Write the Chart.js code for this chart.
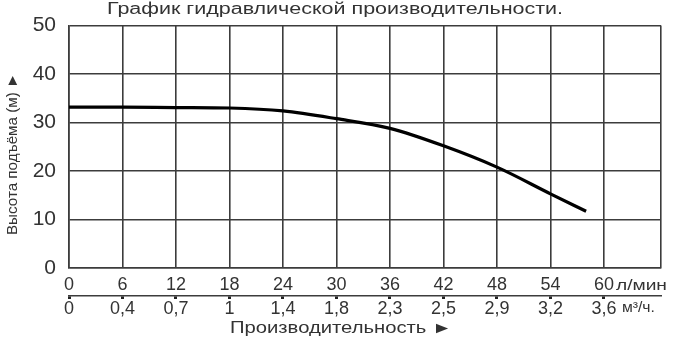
<!DOCTYPE html>
<html>
<head>
<meta charset="utf-8">
<script src="https://cdn.jsdelivr.net/npm/chart.js@4"></script>
<style>
  html, body { margin: 0; padding: 0; background: #fff; }
  #wrap { width: 673px; height: 344px; }
</style>
</head>
<body>
<div id="wrap"><canvas id="pumpChart"></canvas></div>
<script>
// расход, л/мин
var flowLpm = [0, 6, 12, 18, 24, 30, 36, 42, 48, 54, 58];
// напор, м
var headM = [33.2, 33.2, 33.1, 33.0, 32.4, 30.8, 28.8, 25.2, 20.8, 15.3, 11.7];
// подписи нижней шкалы
var flowTicks = [0, 6, 12, 18, 24, 30, 36, 42, 48, 54, 60];
var flowM3Labels = ['0', '0,4', '0,7', '1', '1,4', '1,8', '2,3', '2,5', '2,9', '3,2', '3,6'];
var headTicks = [0, 10, 20, 30, 40, 50];

var textColor = '#333';
var gridColor = '#3c3c3c';
var fontFamily = '"Liberation Sans", Arial, sans-serif';

// текст, растянутый по ширине как на картинке
function stretchedText(c, text, cx, cy, size, width, angle) {
    c.save();
    c.font = size + 'px ' + fontFamily;
    c.fillStyle = textColor;
    c.textAlign = 'center';
    c.textBaseline = 'middle';
    var k = width / c.measureText(text).width;
    c.translate(cx, cy);
    if (angle) c.rotate(angle);
    c.scale(k, 1);
    c.fillText(text, 0, 0);
    c.restore();
}

function leftText(c, text, x, cy, size, width) {
    c.save();
    c.font = size + 'px ' + fontFamily;
    c.fillStyle = textColor;
    c.textAlign = 'left';
    c.textBaseline = 'middle';
    var k = width / c.measureText(text).width;
    c.translate(x, cy);
    c.scale(k, 1);
    c.fillText(text, 0, 0);
    c.restore();
}

// заголовки и единицы измерения
var labelsPlugin = {
    id: 'labels',
    afterDraw: function(chart) {
        var c = chart.ctx;
        var px = chart.scales.x.getPixelForValue(60);
        var x2 = chart.scales.x2;
        stretchedText(c, 'График гидравлической производительности.', 335, 10, 16, 456, 0);
        stretchedText(c, 'Производительность ►', 341, 329, 16, 222, 0);
        stretchedText(c, 'Высота подъёма (м) ►', 13, 154, 15, 162, -Math.PI / 2);
        leftText(c, 'л/мин', px + 12, chart.chartArea.bottom + 18, 14, 51);
        leftText(c, 'м³/ч.', px + 18, x2.top + 12, 15, 33);
    }
};

var ctx = document.getElementById('pumpChart');

new Chart(ctx, {
    type: 'line',
    data: {
        datasets: [{
            data: flowLpm.map(function(v, i) { return { x: v, y: headM[i] }; }),
            borderColor: '#000',
            borderWidth: 3.2,
            pointRadius: 0,
            cubicInterpolationMode: 'monotone',
            fill: false
        }]
    },
    options: {
        responsive: true,
        maintainAspectRatio: false,
        animation: false,
        layout: {
            padding: { left: 0, right: 12, top: 24, bottom: 0 }
        },
        plugins: {
            legend: { display: false },
            tooltip: { enabled: false }
        },
        scales: {
            x: {
                type: 'linear',
                position: 'bottom',
                min: 0,
                max: 66.4,
                afterBuildTicks: function(axis) {
                    axis.ticks = flowTicks.map(function(v) { return { value: v }; }).concat([{ value: 66.4 }]);
                },
                afterFit: function(axis) { axis.height = 28; },
                ticks: {
                    color: textColor,
                    font: { family: fontFamily, size: 18 },
                    padding: 6,
                    maxRotation: 0,
                    autoSkip: false,
                    callback: function(value) {
                        return flowTicks.indexOf(value) >= 0 ? String(value) : '';
                    }
                },
                grid: {
                    color: gridColor,
                    lineWidth: 1.6,
                    drawTicks: false
                },
                border: { display: true, color: gridColor, width: 1.6 }
            },
            x2: {
                type: 'linear',
                position: 'bottom',
                min: 0,
                max: 66.4,
                afterBuildTicks: function(axis) {
                    axis.ticks = flowTicks.map(function(v) { return { value: v }; });
                },
                afterFit: function(axis) { axis.height = 48; },
                ticks: {
                    color: textColor,
                    font: { family: fontFamily, size: 18 },
                    padding: -1,
                    maxRotation: 0,
                    autoSkip: false,
                    callback: function(value) {
                        var i = flowTicks.indexOf(value);
                        return i >= 0 ? flowM3Labels[i] : '';
                    }
                },
                grid: {
                    drawOnChartArea: false,
                    drawTicks: true,
                    tickLength: 3,
                    tickWidth: 3,
                    tickColor: '#222'
                },
                border: { display: true, color: gridColor, width: 1.4 }
            },
            y: {
                min: 0,
                max: 50,
                afterBuildTicks: function(axis) {
                    axis.ticks = headTicks.map(function(v) { return { value: v }; });
                },
                afterFit: function(axis) { axis.width = 69; },
                ticks: {
                    color: textColor,
                    font: { family: fontFamily, size: 21 },
                    padding: 13
                },
                grid: {
                    color: gridColor,
                    lineWidth: 1.6,
                    drawTicks: false
                },
                border: { display: true, color: gridColor, width: 1.6 }
            }
        }
    },
    plugins: [labelsPlugin]
});
</script>
</body>
</html>
